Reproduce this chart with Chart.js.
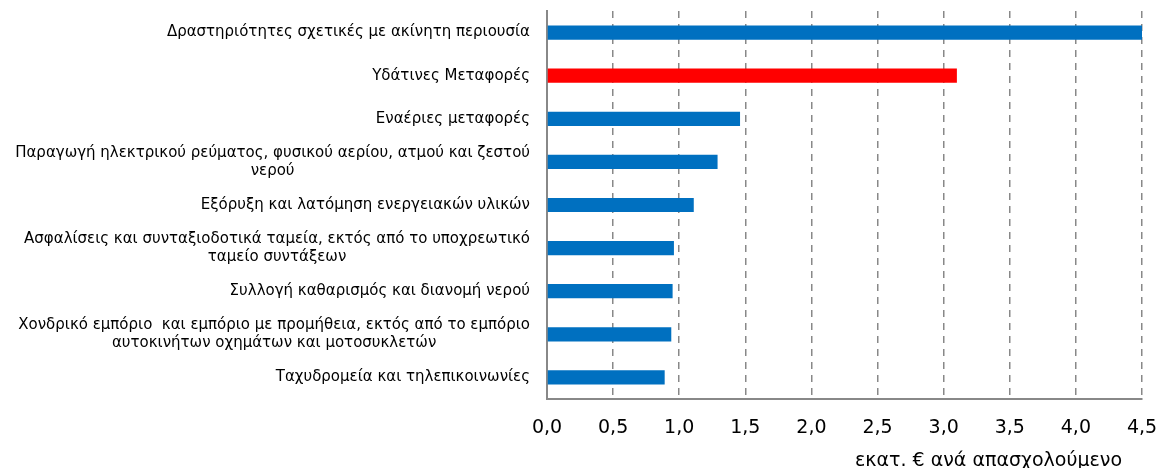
<!DOCTYPE html>
<html>
<head>
<meta charset="utf-8">
<script src="https://cdn.jsdelivr.net/npm/chart.js@4.4.0/dist/chart.umd.min.js"></script>
<style>
  html, body { margin: 0; padding: 0; background: #fff; overflow: hidden; }
  #wrap { width: 1157px; height: 470px; position: relative; }
</style>
</head>
<body>
<div id="wrap"><canvas id="chartParagogikotita"></canvas></div>
<script>
// Κλάδοι και τιμές (εκατ. € ανά απασχολούμενο)
const categories = [
  'Δραστηριότητες σχετικές με ακίνητη περιουσία',
  'Υδάτινες Μεταφορές',
  'Εναέριες μεταφορές',
  ['Παραγωγή ηλεκτρικού ρεύματος, φυσικού αερίου, ατμού και ζεστού', 'νερού'],
  'Εξόρυξη και λατόμηση ενεργειακών υλικών',
  ['Ασφαλίσεις και συνταξιοδοτικά ταμεία, εκτός από το υποχρεωτικό', 'ταμείο συντάξεων'],
  'Συλλογή καθαρισμός και διανομή νερού',
  ['Χονδρικό εμπόριο  και εμπόριο με προμήθεια, εκτός από το εμπόριο', 'αυτοκινήτων οχημάτων και μοτοσυκλετών'],
  'Ταχυδρομεία και τηλεπικοινωνίες'
];
const values = [4.52, 3.10, 1.46, 1.29, 1.11, 0.96, 0.95, 0.94, 0.89];
const highlighted = [1];
const xMin = 0, xMax = 4.5, xStep = 0.5;
const xTitle = 'εκατ. € ανά απασχολούμενο';

const FONT = '"DejaVu Sans", Verdana, sans-serif';

// ετικέτες κατηγοριών: δεξιά στοίχιση, οι γραμμές κεντραρισμένες μεταξύ τους
// + τίτλος άξονα x λίγο πιο μέσα από το δεξί άκρο
const extraText = {
  id: 'extraText',
  afterDraw(chart) {
    const ctx = chart.ctx;
    const y = chart.scales.y;
    const area = chart.chartArea;
    const right = area.left - 17;
    ctx.save();
    ctx.font = '15px ' + FONT;
    ctx.fillStyle = '#000';
    ctx.textAlign = 'center';
    ctx.textBaseline = 'middle';
    categories.forEach((lab, i) => {
      const lines = Array.isArray(lab) ? lab : [lab];
      const w = Math.max(...lines.map(l => ctx.measureText(l).width));
      const cx = right - w / 2;
      const yc = y.getPixelForValue(i);
      lines.forEach((l, j) => {
        ctx.fillText(l, cx, yc + (j - (lines.length - 1) / 2) * 18.5);
      });
    });
    ctx.font = '19px ' + FONT;
    ctx.textAlign = 'right';
    ctx.textBaseline = 'alphabetic';
    ctx.fillText(xTitle, area.right - 20, chart.height - 4);
    ctx.restore();
  }
};

new Chart(document.getElementById('chartParagogikotita'), {
  type: 'bar',
  data: {
    labels: categories,
    datasets: [{
      data: values,
      backgroundColor: values.map((v, i) => highlighted.includes(i) ? '#ff0000' : '#0070c0'),
      barPercentage: 0.33,
      categoryPercentage: 1
    }]
  },
  options: {
    indexAxis: 'y',
    responsive: true,
    maintainAspectRatio: false,
    animation: false,
    layout: { padding: { left: 547, top: 11, right: 0, bottom: 0 } },
    plugins: { legend: { display: false }, tooltip: { enabled: false } },
    scales: {
      x: {
        min: xMin,
        max: xMax,
        ticks: {
          stepSize: xStep,
          padding: 18,
          color: '#000',
          font: { family: FONT, size: 19 },
          callback: v => v.toFixed(1).replace('.', ',')
        },
        grid: {
          color: c => (c.tick && c.tick.value === 0) ? 'rgba(0,0,0,0)' : '#888',
          lineWidth: 1.5,
          drawTicks: false
        },
        border: { display: true, color: '#888', width: 2, dash: [7, 6] },
        afterFit(scale) {
          scale.height = 71;
          scale.paddingRight = 15;
        }
      },
      y: {
        ticks: { display: false },
        grid: { display: false, drawTicks: false },
        border: { display: true, color: '#888', width: 2 }
      }
    }
  },
  plugins: [extraText]
});
</script>
</body>
</html>
